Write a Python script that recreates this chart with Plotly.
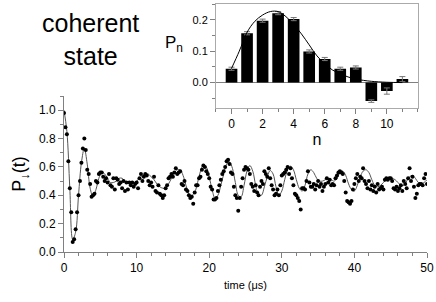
import plotly.graph_objects as go

# ---- main data: P_down(t), sampled every 0.2 us ----
t_step = 0.2
p_data = [
 0.98,0.88,0.83,0.64,0.45,0.28,0.07,0.09,0.16,0.28,
 0.40,0.50,0.63,0.73,0.80,0.72,0.58,0.55,0.48,0.39,
 0.40,0.41,0.50,0.49,0.55,0.56,0.56,0.53,0.50,0.52,
 0.49,0.55,0.47,0.46,0.52,0.44,0.52,0.51,0.48,0.49,
 0.45,0.50,0.43,0.49,0.44,0.49,0.47,0.49,0.46,0.48,
 0.49,0.45,0.52,0.55,0.50,0.53,0.55,0.54,0.50,0.47,
 0.49,0.46,0.53,0.43,0.42,0.47,0.41,0.40,0.38,0.40,
 0.45,0.47,0.52,0.53,0.55,0.53,0.56,0.59,0.55,0.56,
 0.57,0.48,0.47,0.50,0.44,0.43,0.40,0.38,0.39,0.34,
 0.42,0.47,0.47,0.52,0.53,0.58,0.61,0.60,0.57,0.55,
 0.52,0.46,0.44,0.37,0.37,0.38,0.43,0.47,0.51,0.55,
 0.57,0.60,0.64,0.65,0.62,0.56,0.55,0.46,0.40,0.38,
 0.29,0.38,0.46,0.52,0.58,0.60,0.59,0.58,0.55,0.48,
 0.46,0.43,0.47,0.42,0.40,0.46,0.50,0.48,0.57,0.55,
 0.53,0.59,0.52,0.47,0.44,0.40,0.41,0.44,0.40,0.47,
 0.54,0.55,0.56,0.58,0.60,0.55,0.59,0.52,0.47,0.41,
 0.40,0.38,0.36,0.30,0.45,0.45,0.44,0.50,0.57,0.49,
 0.46,0.46,0.48,0.44,0.47,0.50,0.46,0.48,0.43,0.46,
 0.48,0.52,0.49,0.51,0.47,0.48,0.47,0.52,0.54,0.56,
 0.57,0.56,0.55,0.50,0.42,0.36,0.35,0.34,0.36,0.44,
 0.48,0.52,0.55,0.50,0.53,0.52,0.59,0.50,0.48,0.45,
 0.50,0.44,0.47,0.43,0.46,0.42,0.48,0.44,0.45,0.46,
 0.44,0.51,0.52,0.51,0.52,0.52,0.50,0.45,0.44,0.46,
 0.43,0.45,0.47,0.43,0.50,0.48,0.45,0.52,0.59,0.50,
 0.53,0.46,0.38,0.41,0.47,0.48,0.48,0.47,0.52,0.55,
 0.48,
]
t_data = [round(i * t_step, 2) for i in range(len(p_data))]

# ---- theory curve ----
line_t = [0.0,0.4,0.8,1.2,1.6,2.0,2.4,2.8,3.2,3.6,4.0,4.4,4.8,5.2,5.6,6.0,6.4,6.8,7.2,7.6,
          8.0,8.4,8.8,9.2,9.6,10.0,10.4,10.8,11.2,11.6,12.0,12.4,12.8,13.2,13.6,14.0,14.4,14.8,15.2,15.6,
          16.0,16.4,16.8,17.2,17.6,18.0,18.4,18.8,19.2,19.6,20.0,20.4,20.8,21.2,21.6,22.0,22.4,22.8,23.2,23.6,
          24.0,24.4,24.8,25.2,25.6,26.0,26.4,26.8,27.2,27.6,28.0,28.4,28.8,29.2,29.6,30.0,30.4,30.8,31.2,31.6,
          32.0,32.4,32.8,33.2,33.6,34.0,34.4,34.8,35.2,35.6,36.0,36.4,36.8,37.2,37.6,38.0,38.4,38.8,39.2,39.6,
          40.0,40.4,40.8,41.2,41.6,42.0,42.4,42.8,43.2,43.6,44.0,44.4,44.8,45.2,45.6,46.0,46.4,46.8,47.2,47.6,
          48.0,48.4,48.8,49.2,49.6,50.0]
line_p = [1.00,0.85,0.45,0.09,0.14,0.40,0.63,0.73,0.62,0.45,0.39,0.44,0.52,0.565,0.55,0.52,0.49,0.49,0.50,0.52,
          0.52,0.50,0.49,0.49,0.49,0.50,0.52,0.54,0.55,0.55,0.53,0.51,0.48,0.46,0.45,0.45,0.48,0.52,0.56,0.58,
          0.58,0.54,0.47,0.41,0.40,0.42,0.49,0.57,0.615,0.60,0.53,0.44,0.38,0.40,0.47,0.55,0.62,0.635,0.59,0.49,
          0.40,0.39,0.47,0.57,0.61,0.57,0.47,0.40,0.40,0.46,0.53,0.575,0.55,0.46,0.40,0.43,0.51,0.58,0.605,0.58,
          0.51,0.45,0.43,0.47,0.55,0.58,0.56,0.52,0.50,0.50,0.51,0.52,0.51,0.50,0.52,0.56,0.57,0.54,0.48,0.44,
          0.43,0.47,0.53,0.57,0.58,0.56,0.51,0.47,0.46,0.47,0.49,0.51,0.52,0.52,0.51,0.49,0.47,0.47,0.50,0.53,
          0.54,0.52,0.49,0.48,0.49,0.51]

# ---- inset: photon number distribution ----
n_vals = [0,1,2,3,4,5,6,7,8,9,10,11]
pn_vals = [0.044,0.157,0.197,0.221,0.202,0.099,0.075,0.044,0.048,-0.059,-0.027,0.011]
pn_err = [0.005,0.005,0.005,0.005,0.005,0.005,0.005,0.005,0.005,0.004,0.010,0.008]
fit_n = [0,0.5,1,1.5,2,2.5,3,3.5,4,4.5,5,5.5,6,6.5,7,7.5,8,8.5,9,10,11]
fit_p = [0.045,0.10,0.16,0.195,0.215,0.226,0.226,0.21,0.185,0.155,0.12,0.085,0.06,0.04,0.028,0.018,0.011,0.007,0.004,0.001,0.0]

FONT = "Liberation Sans, Arial, sans-serif"
AX = "#808080"
W, H = 436, 302
ML, MR, MT, MB = 64, 9, 0, 50
pw, ph = W - ML - MR, H - MT - MB

def px2paper(px, py):
    return (px - ML) / pw, (H - MB - py) / ph

fig = go.Figure()
fig.add_trace(go.Scatter(x=line_t, y=line_p, mode="lines", line=dict(color="#555555", width=1, shape="spline"),
                         xaxis="x", yaxis="y", showlegend=False, hoverinfo="skip"))
fig.add_trace(go.Scatter(x=t_data, y=p_data, mode="markers", marker=dict(color="black", size=4),
                         xaxis="x", yaxis="y", showlegend=False))
fig.add_trace(go.Bar(x=n_vals, y=pn_vals, width=0.75, marker=dict(color="black", line=dict(width=0)),
                     error_y=dict(type="data", array=pn_err, color="#777777", thickness=1, width=3),
                     xaxis="x2", yaxis="y2", showlegend=False))
fig.add_trace(go.Scatter(x=fit_n, y=fit_p, mode="lines", line=dict(color="black", width=1, shape="spline"),
                         xaxis="x2", yaxis="y2", showlegend=False, hoverinfo="skip"))

ax1, ay1 = px2paper(90, 39)
ax2, ay2 = px2paper(174, 44)

fig.update_layout(
    width=W, height=H,
    margin=dict(l=ML, r=MR, t=MT, b=MB, autoexpand=False),
    paper_bgcolor="white", plot_bgcolor="white",
    font=dict(family=FONT, color="black", size=12),
    xaxis=dict(domain=[0, 1], range=[0, 50], tickvals=[0,10,20,30,40,50], ticks="outside", ticklen=5,
               tickcolor=AX, showline=True, linecolor=AX, linewidth=1, showgrid=False, zeroline=False,
               minor=dict(dtick=2, ticks="outside", ticklen=3, tickcolor=AX),
               title=dict(text="time (μs)", font=dict(size=11), standoff=6), tickfont=dict(size=12),
               anchor="y"),
    yaxis=dict(domain=[0, 0.619], range=[0, 1.1], tickvals=[0,0.2,0.4,0.6,0.8,1.0], ticktext=["0.0","0.2","0.4","0.6","0.8","1.0"],
               ticks="outside", ticklen=5, tickcolor=AX, showline=True, linecolor=AX, linewidth=1,
               showgrid=False, zeroline=False,
               minor=dict(dtick=0.1, ticks="outside", ticklen=3, tickcolor=AX),
               title=dict(text="P<sub>↓</sub>(t)", font=dict(size=18), standoff=8), tickfont=dict(size=12),
               anchor="x"),
    xaxis2=dict(domain=[0.4187, 0.975], range=[-1, 12], tickvals=[0,2,4,6,8,10], ticks="outside", ticklen=5,
                tickcolor=AX, showline=True, mirror=True, linecolor="#aaaaaa", linewidth=1, showgrid=False,
                zeroline=False, minor=dict(dtick=1, ticks="outside", ticklen=3, tickcolor=AX),
                title=dict(text="n", font=dict(size=16), standoff=2), tickfont=dict(size=12), anchor="y2"),
    yaxis2=dict(domain=[0.5726, 0.984], range=[-0.08, 0.25], tickvals=[0, 0.1, 0.2], ticktext=["0.0","0.1","0.2"],
                ticks="outside", ticklen=5, tickcolor=AX, showline=True, mirror=True, linecolor="#aaaaaa",
                linewidth=1, showgrid=False, zeroline=True, zerolinecolor=AX, zerolinewidth=1,
                minor=dict(dtick=0.05, ticks="outside", ticklen=3, tickcolor=AX),
                tickfont=dict(size=11), anchor="x2"),
    annotations=[
        dict(text="coherent<br>state", x=ax1, y=ay1, xref="paper", yref="paper", showarrow=False,
             font=dict(size=25), xanchor="center", yanchor="middle"),
        dict(text="P<sub>n</sub>", x=ax2, y=ay2, xref="paper", yref="paper", showarrow=False,
             font=dict(size=17), xanchor="center", yanchor="middle"),
    ],
)

fig.write_html("out.html", config={"displayModeBar": False},
               post_script="document.body.style.margin='0';document.body.style.padding='0';")
